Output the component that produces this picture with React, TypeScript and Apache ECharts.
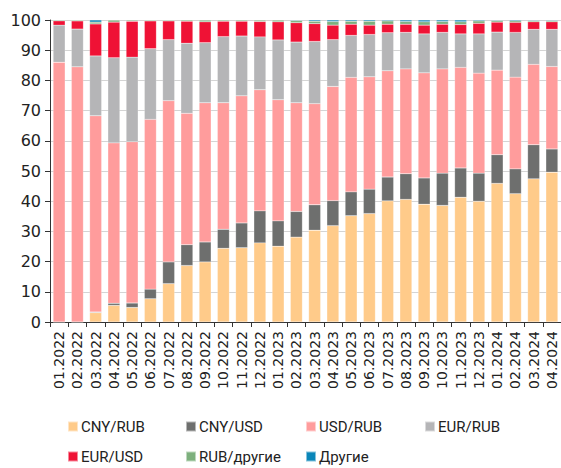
import React, { useEffect, useRef } from "react";
import * as echarts from "echarts";

const categories = [
  "01.2022", "02.2022", "03.2022", "04.2022", "05.2022", "06.2022", "07.2022",
  "08.2022", "09.2022", "10.2022", "11.2022", "12.2022", "01.2023", "02.2023",
  "03.2023", "04.2023", "05.2023", "06.2023", "07.2023", "08.2023", "09.2023",
  "10.2023", "11.2023", "12.2023", "01.2024", "02.2024", "03.2024", "04.2024",
];

const cnyRub = [0, 0, 3.1, 5.5, 4.8, 7.7, 12.7, 18.7, 19.9, 24.4, 24.6, 26.2, 25.1, 28.1, 30.4, 31.9, 35.2, 35.9, 40.1, 40.6, 39.0, 38.6, 41.3, 40.0, 45.9, 42.5, 47.4, 49.6];
const cnyUsd = [0, 0, 0.2, 0.7, 1.5, 3.2, 7.2, 6.9, 6.6, 6.3, 8.2, 10.6, 8.4, 8.5, 8.4, 8.3, 7.9, 8.1, 7.9, 8.5, 8.7, 10.7, 9.7, 9.3, 9.5, 8.2, 11.3, 7.7];
const usdRub = [86.0, 84.5, 65.0, 53.1, 53.4, 56.2, 53.4, 43.5, 46.1, 41.9, 42.1, 40.1, 40.1, 36.0, 33.5, 37.8, 37.9, 37.2, 35.2, 34.7, 34.8, 34.5, 33.3, 33.1, 28.0, 30.4, 26.6, 27.3];
const eurRub = [12.3, 12.5, 19.8, 28.2, 28.0, 23.4, 20.2, 23.2, 19.9, 21.9, 19.8, 17.5, 19.8, 20.1, 20.6, 15.5, 13.9, 14.0, 12.6, 12.1, 12.9, 12.1, 11.1, 13.0, 12.6, 14.8, 11.6, 12.3];
const eurUsd = [1.4, 2.7, 10.6, 11.8, 11.9, 9.2, 6.2, 7.3, 6.9, 5.1, 4.9, 5.1, 6.0, 6.4, 5.9, 4.8, 3.7, 3.1, 2.8, 2.7, 2.9, 2.7, 3.1, 3.5, 3.3, 3.3, 2.5, 2.5];
const rubOther = [0.3, 0.3, 0.6, 0.7, 0.4, 0.3, 0.3, 0.4, 0.6, 0.4, 0.4, 0.5, 0.6, 0.7, 0.8, 1.2, 1.0, 1.3, 1.1, 0.9, 1.1, 0.9, 0.9, 0.8, 0.5, 0.5, 0.4, 0.4];
const others = [0, 0, 0.7, 0, 0, 0, 0, 0, 0, 0, 0, 0, 0, 0.2, 0.4, 0.5, 0.4, 0.4, 0.3, 0.5, 0.6, 0.5, 0.6, 0.3, 0.2, 0.3, 0.2, 0.2];

const seriesNames = ["CNY/RUB", "CNY/USD", "USD/RUB", "EUR/RUB", "EUR/USD", "RUB/другие", "Другие"];
const seriesData = [cnyRub, cnyUsd, usdRub, eurRub, eurUsd, rubOther, others];
const colors = ["#FFCB8A", "#6E6F6E", "#FF9C9C", "#B5B5B7", "#EF1235", "#7DB07D", "#0A86B9"];
const yTicks = { min: 0, max: 100, interval: 10 };

const legendPos = [
  [67, 0], [185, 0], [305, 0], [424, 0],
  [67, 1], [185, 1], [305, 1],
];

export default function App() {
  const ref = useRef<HTMLDivElement>(null);
  useEffect(() => {
    if (!ref.current) return;
    const chart = echarts.init(ref.current, undefined, { renderer: "svg" });
    const font = "'Liberation Sans Narrow', 'Roboto', sans-serif";
    chart.setOption({
      animation: false,
      color: colors,
      grid: { left: 50, right: 0, top: 20, bottom: 146, containLabel: false },
      legend: seriesNames.map((n, i) => ({
        data: [n],
        left: legendPos[i][0],
        top: legendPos[i][1] === 0 ? 419 : 449,
        padding: 0,
        icon: "rect",
        itemWidth: 10,
        itemHeight: 10,
        itemGap: 0,
        textStyle: { fontSize: 15, color: "#222", fontFamily: font, padding: [0, 0, 0, -2] },
        selectedMode: false,
      })),
      xAxis: {
        type: "category",
        data: categories,
        axisLine: { show: true, lineStyle: { color: "#333", width: 1 } },
        axisTick: { show: true, length: 5, lineStyle: { color: "#333" } },
        axisLabel: { rotate: 90, fontSize: 14, color: "#222", fontFamily: "'DejaVu Sans', sans-serif", margin: 9, interval: 0 },
      },
      yAxis: {
        type: "value",
        min: yTicks.min,
        max: yTicks.max,
        interval: yTicks.interval,
        axisLine: { show: true, lineStyle: { color: "#333", width: 1 } },
        axisTick: { show: true, length: 5, lineStyle: { color: "#333" } },
        axisLabel: { fontSize: 16, color: "#222", fontFamily: "'DejaVu Sans', sans-serif", margin: 9 },
        splitLine: { show: true, lineStyle: { color: "#D4D4D4", width: 1 } },
      },
      series: seriesNames.map((n, i) => ({
        name: n,
        type: "bar",
        stack: "total",
        barWidth: 12,
        data: seriesData[i],
        itemStyle: { color: colors[i], borderColor: "rgba(255,255,255,0.5)", borderWidth: 0.4 },
      })),
    });
    return () => chart.dispose();
  }, []);
  return <div ref={ref} style={{ position: "absolute", left: 0, top: 0, width: 561, height: 468 }} />;
}
